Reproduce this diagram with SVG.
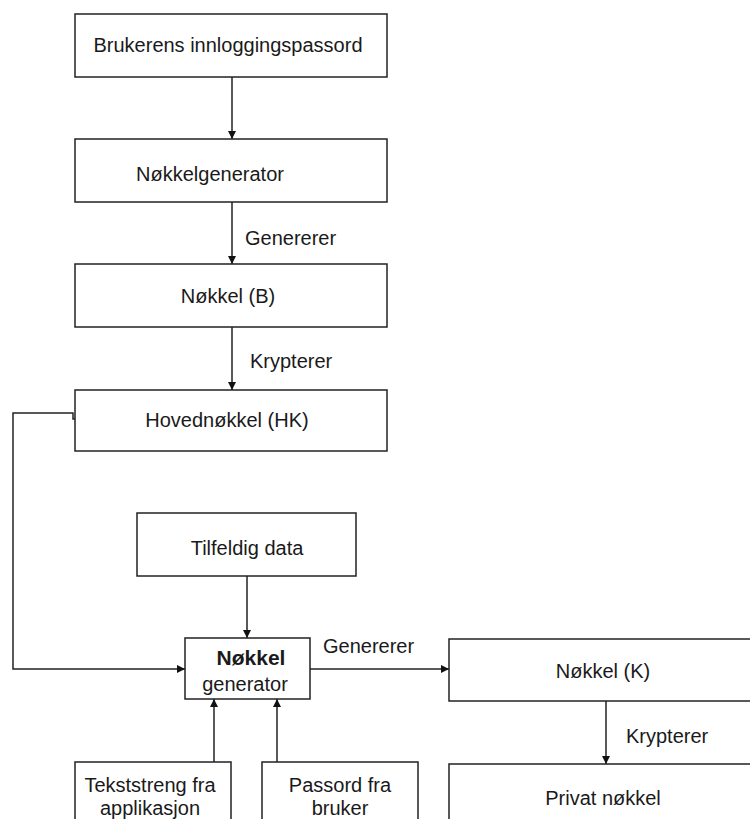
<svg xmlns="http://www.w3.org/2000/svg" width="750" height="819" viewBox="0 0 750 819">
<defs>
<marker id="arr" markerWidth="8" markerHeight="8" refX="8" refY="4" orient="auto" markerUnits="userSpaceOnUse">
<path d="M0,0 L8,4 L0,8 Z" fill="#111"/>
</marker>
<style>
.box{fill:#fff;stroke:#222;stroke-width:1.5}
.t{font-family:"Liberation Sans",Arial,sans-serif;font-size:20px;fill:#1a1a1a;text-anchor:middle}
.l{font-family:"Liberation Sans",Arial,sans-serif;font-size:20px;fill:#1a1a1a}
.b{font-weight:bold;font-size:21px}
.c{fill:none;stroke:#222;stroke-width:1.5}
</style>
</defs>
<rect width="750" height="819" fill="#fff"/>
<g id="connectors">
<path class="c" d="M232,77 V139" marker-end="url(#arr)"/>
<path class="c" d="M232,202 V264" marker-end="url(#arr)"/>
<path class="c" d="M232,327 V390" marker-end="url(#arr)"/>
<path class="c" d="M75,419 H73 V413 H13 V669 H185" marker-end="url(#arr)"/>
<path class="c" d="M247,576 V638" marker-end="url(#arr)"/>
<path class="c" d="M310,669 H449" marker-end="url(#arr)"/>
<path class="c" d="M606,701 V764" marker-end="url(#arr)"/>
<path class="c" d="M214,762 V699" marker-end="url(#arr)"/>
<path class="c" d="M277,762 V699" marker-end="url(#arr)"/>
<text class="l" x="245" y="245">Genererer</text>
<text class="l" x="250" y="368">Krypterer</text>
<text class="l" x="323" y="653">Genererer</text>
<text class="l" x="626" y="743">Krypterer</text>
</g>
<g id="n1"><rect class="box" x="75" y="14" width="312" height="63"/><text class="t" x="228" y="52">Brukerens innloggingspassord</text></g>
<g id="n2"><rect class="box" x="75" y="139" width="312" height="63"/><text class="t" x="210" y="181">Nøkkelgenerator</text></g>
<g id="n3"><rect class="box" x="75" y="264" width="312" height="63"/><text class="t" x="228" y="303">Nøkkel (B)</text></g>
<g id="n4"><rect class="box" x="75" y="390" width="312" height="61"/><text class="t" x="227" y="427">Hovednøkkel (HK)</text></g>
<g id="n5"><rect class="box" x="137" y="513" width="219" height="63"/><text class="t" x="247" y="555">Tilfeldig data</text></g>
<g id="n6"><rect class="box" x="185" y="638" width="125" height="61"/><text class="t b" x="251" y="665">Nøkkel</text><text class="t" x="245" y="691">generator</text></g>
<g id="n7"><rect class="box" x="449" y="639" width="310" height="62"/><text class="t" x="603" y="678">Nøkkel (K)</text></g>
<g id="n8"><rect class="box" x="449" y="764" width="310" height="70"/><text class="t" x="603" y="805">Privat nøkkel</text></g>
<g id="n9"><rect class="box" x="75" y="762" width="156" height="70"/><text class="t" x="150" y="792">Tekststreng fra</text><text class="t" x="150" y="815">applikasjon</text></g>
<g id="n10"><rect class="box" x="262" y="762" width="156" height="70"/><text class="t" x="340" y="792">Passord fra</text><text class="t" x="340" y="815">bruker</text></g>
</svg>
